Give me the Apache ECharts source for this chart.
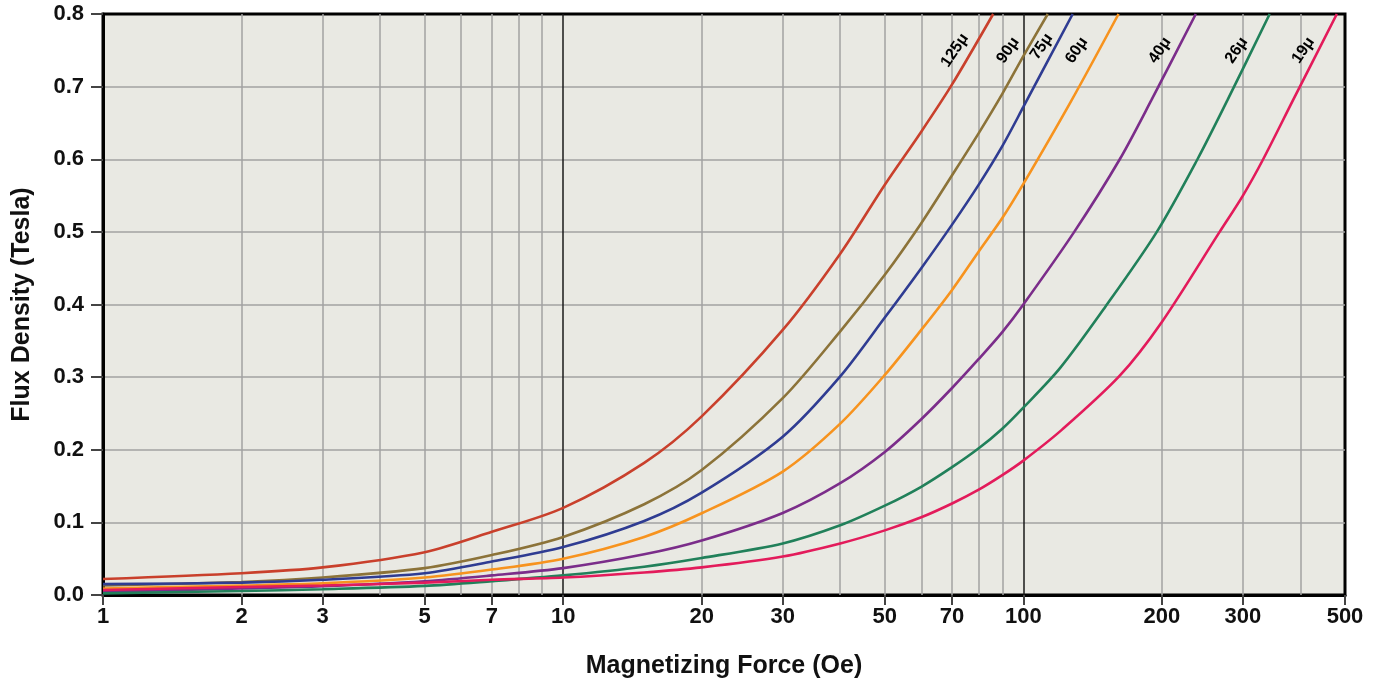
<!DOCTYPE html>
<html>
<head>
<meta charset="utf-8">
<script src="https://cdn.jsdelivr.net/npm/echarts@6/dist/echarts.min.js"></script>
<style>
html,body{margin:0;padding:0;background:#fff;}
#chart{width:1374px;height:686px;}
</style>
</head>
<body>
<div id="chart"></div>
<script>
// ---- data: [H (Oe), B (Tesla)] ----
const mu125 = [[1,0.022],[2,0.030],[3,0.038],[5,0.059],[7,0.087],[10,0.120],[15,0.182],[20,0.246],[30,0.365],[40,0.470],[50,0.565],[60,0.638],[70,0.703],[86,0.8]];
const mu90  = [[1,0.013],[2,0.018],[3,0.024],[5,0.037],[7,0.055],[10,0.080],[15,0.125],[20,0.172],[30,0.271],[40,0.363],[50,0.441],[60,0.512],[70,0.578],[80,0.636],[90,0.690],[100,0.742],[113,0.8]];
const mu75  = [[1,0.015],[2,0.017],[3,0.021],[5,0.030],[7,0.046],[10,0.066],[15,0.102],[20,0.141],[30,0.218],[40,0.301],[50,0.382],[60,0.450],[70,0.510],[80,0.565],[90,0.618],[100,0.672],[128,0.8]];
const mu60  = [[1,0.009],[2,0.013],[3,0.016],[5,0.024],[7,0.035],[10,0.050],[15,0.080],[20,0.1125],[30,0.170],[40,0.236],[50,0.303],[60,0.365],[70,0.420],[80,0.473],[90,0.519],[100,0.566],[127,0.680],[161,0.8]];
const mu40  = [[1,0.0046],[2,0.009],[3,0.012],[5,0.019],[7,0.027],[10,0.037],[15,0.056],[20,0.075],[30,0.113],[40,0.154],[50,0.197],[60,0.242],[70,0.285],[80,0.325],[90,0.362],[100,0.400],[129,0.500],[162,0.600],[190,0.682],[237,0.8]];
const mu26  = [[1,0.0023],[2,0.0055],[3,0.008],[5,0.0125],[7,0.019],[10,0.027],[15,0.039],[20,0.051],[30,0.071],[40,0.096],[50,0.123],[60,0.149],[70,0.176],[80,0.202],[90,0.229],[100,0.258],[120,0.312],[150,0.395],[195,0.500],[239,0.600],[278,0.682],[343,0.8]];
const mu19  = [[1,0.0069],[2,0.011],[3,0.013],[5,0.017],[7,0.021],[10,0.024],[15,0.031],[20,0.038],[30,0.053],[40,0.071],[50,0.089],[60,0.107],[70,0.126],[80,0.145],[90,0.165],[100,0.185],[121,0.227],[162,0.302],[200,0.376],[267,0.500],[300,0.550],[332,0.600],[386,0.682],[480,0.8]];

const seriesNames = ['125μ','90μ','75μ','60μ','40μ','26μ','19μ'];
const seriesData = [mu125, mu90, mu75, mu60, mu40, mu26, mu19];
const seriesColors = ['#c9402c','#8c7339','#2f3c92','#f7931e','#7b2d8a','#21805a','#e31b5b'];

// curve label anchors (H, B)
const labelH = [71, 92.6, 109.6, 130.6, 198, 290.7, 405.8];
const labelB = [0.75, 0.75, 0.755, 0.75, 0.75, 0.75, 0.75];

// axis ticks / grid
const xTickLabels = [1,2,3,5,7,10,20,30,50,70,100,200,300,500];
const xGridMinor = [2,3,4,5,6,7,8,9,20,30,40,50,60,70,80,90,200,300,400];
const xGridMajor = [10,100];

const FONT = '"Liberation Sans","Arimo",Arial,sans-serif';

const chart = echarts.init(document.getElementById('chart'), null, {renderer:'canvas'});

const curveSeries = seriesData.map((d,i)=>({
  name: seriesNames[i],
  type: 'line',
  data: d,
  smooth: 0.3,
  showSymbol: false,
  symbol: 'none',
  z: 5,
  lineStyle: {color: seriesColors[i], width: 2.6},
  itemStyle: {color: seriesColors[i]}
}));

const gridSeries = {
  name: 'grid',
  type: 'line',
  data: [[1,0]],
  symbol: 'none',
  z: 1,
  silent: true,
  lineStyle: {opacity: 0},
  markLine: {
    silent: true,
    symbol: ['none','none'],
    label: {show: false},
    animation: false,
    data: xGridMinor.map(v=>({xAxis: v, lineStyle:{color:'#a2a2a2', width:1.5, type:'solid'}}))
      .concat(xGridMajor.map(v=>({xAxis: v, lineStyle:{color:'#1a1a1a', width:1.5, type:'solid'}})))
  }
};

const labelSeries = {
  name: 'labels',
  type: 'scatter',
  symbolSize: 0,
  z: 6,
  silent: true,
  data: labelH.map((h,i)=>({name: seriesNames[i], value:[h, labelB[i]]})),
  label: {
    show: true,
    position: 'inside',
    rotate: 56,
    formatter: p => p.name,
    color: '#000',
    opacity: 1,
    fontFamily: FONT,
    fontWeight: 'bold',
    fontSize: 16
  }
};

chart.setOption({
  animation: false,
  backgroundColor: '#ffffff',
  grid: {left:103, right:29, top:14, bottom:91, show:true, backgroundColor:'#e9e9e3', borderColor:'#000', borderWidth:3, containLabel:false},
  xAxis: {
    type: 'log', logBase: 10, min: 1, max: 500,
    name: 'Magnetizing Force (Oe)', nameLocation: 'middle', nameGap: 59,
    nameTextStyle: {fontFamily: FONT, fontWeight:'bold', fontSize: 25, color:'#111'},
    axisLine: {show:true, lineStyle:{color:'#000', width:3}},
    axisTick: {show:true, length:10, customValues: xTickLabels, lineStyle:{color:'#444', width:2}},
    axisLabel: {show:true, customValues: xTickLabels, margin: 11, fontFamily: FONT, fontWeight:'bold', fontSize: 22, color:'#111', formatter: v => String(v)},
    splitLine: {show:false},
    minorTick: {show:false},
    minorSplitLine: {show:false}
  },
  yAxis: {
    type: 'value', min: 0, max: 0.8, interval: 0.1,
    name: 'Flux Density (Tesla)', nameLocation: 'middle', nameGap: 68, nameRotate: 90,
    nameTextStyle: {fontFamily: FONT, fontWeight:'bold', fontSize: 25, color:'#111'},
    axisLine: {show:true, lineStyle:{color:'#000', width:3}},
    axisTick: {show:true, length:12, lineStyle:{color:'#444', width:2}},
    axisLabel: {margin: 19, fontFamily: FONT, fontWeight:'bold', fontSize: 22, color:'#111', formatter: v => v.toFixed(1)},
    splitLine: {show:true, showMaxLine:false, showMinLine:false, lineStyle:{color:'#a2a2a2', width:1.5}}
  },
  series: [gridSeries].concat(curveSeries, [labelSeries])
});
</script>
</body>
</html>
